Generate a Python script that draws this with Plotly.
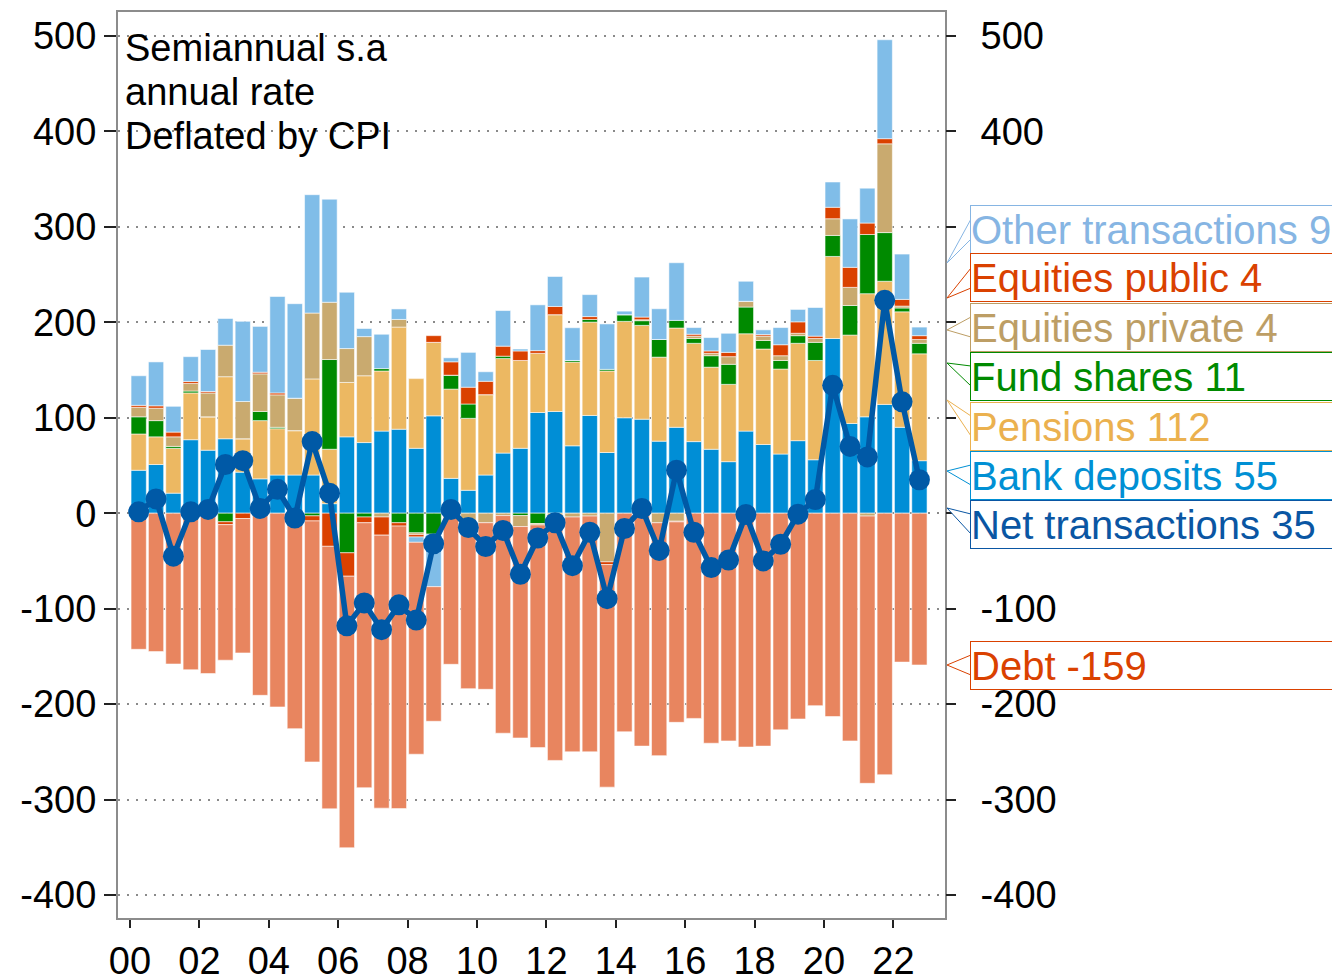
import plotly.graph_objects as go

# ---------------- data ----------------
periods = [f"{y}H{h}" for y in range(2000, 2023) for h in (1, 2)]

bank = [45, 51, 21, 77, 66, 78, 43, 36, 40, 40, 40, 10, 80, 74, 86, 88, 68, 102, 36.5, 24,
        40, 63, 68, 105.5, 106.6, 70.6, 102.4, 63.6, 100, 98.5, 75.5, 90, 75, 67, 54, 86, 72, 62,
        76, 56, 183, 94, 101, 114, 90, 55]
pensions = [38, 29, 47, 49, 35, 65, 35, 61, 48.5, 46.5, 100.7, 57, 57, 70, 63, 107, 73, 77, 93.5, 75.4,
            84.2, 99, 92, 62, 101.4, 87.7, 97.8, 85.4, 101, 98.3, 88, 104, 103, 86, 81, 102, 100, 89,
            102, 104, 86, 92.6, 129, 129, 121, 112]
fund = [18, 17, 2, 2, 0, -9, 0, 9.6, 1.5, 0, -2.8, 94, -41.5, -4, 2.5, -10, -20.6, -22, 14.6, 15,
        0, 2.5, -2.5, -10.8, 0, 1.7, 2.8, 1.7, 7, 4.9, 18.5, 8, 5, 12, 21, 28, 9, 9,
        8, 19, 22, 31, 62, 51, 4, 11]
eq_private = [10, 13, 10, 8, 25, 33, 39, 39.4, 34, 34, 69, 60, 35.5, 41, -4, 8, -1.8, 0, 0, -10,
              -10, -2.5, -11.5, -1.5, -5, -4, -3, -51, 0, 1, -10, -8.4, 2.5, 2.5, 8, 6, 4.5, 5,
              2.5, 4, 17.5, 19, -3, 93, 2, 4]
eq_public = [2, 2.5, 5, 2, 1.5, -3, -5.6, 1.7, 2, 0, -5.3, -34.7, -24.5, -6, -19, -3.5, -2.5, 7, 14, 17.6,
             14, 10.5, 10, 2.8, 8.6, 0, 3, -2.8, 0, 2.8, 0, -0.7, 2, 2.5, 4.5, 0, 1.6, 11.5,
             12, 2.5, 12, 21, 12, 5.4, 7, 4]
other = [31, 46, 27, 26, 44, 28, 84, 48, 101, 99, 124, 108, 59, 8.5, 36, 11, -5.6, -55, 4.2, 36.5,
         10, 37.3, 2, 48, 31.4, 34.3, 23, 47.6, 3.7, 41.9, 32.2, 60.4, 7, 14, 20, 21, 5, 18,
         13, 30, 26.5, 50.7, 36.5, 103.6, 47.5, 9]
debt = [-142.6, -145, -158, -164, -168, -142, -140.8, -190.8, -203, -225.7, -252.5, -275, -284.5, -277.6,
        -286, -296, -222, -141, -158.3, -173.8, -174.5, -228, -221.5, -233.3, -254, -246, -247, -233.2,
        -229, -244, -244, -210, -215, -241, -238.6, -245, -244, -227, -215.6, -201.6, -213, -238.6,
        -280, -274, -156, -159]
net = [1.4, 15, -45, 1.4, 4, 51, 55, 5, 25, -5, 75, 21, -118, -94, -122, -96, -112, -32, 4, -15,
       -35, -18, -64, -26, -10, -55, -20, -89.5, -16, 5, -39, 45, -20, -57, -49, -1.4, -50, -32.5,
       -1, 14.3, 134, 70, 59, 223, 116.7, 35]

x_tickvals = [2000, 2002, 2004, 2006, 2008, 2010, 2012, 2014, 2016, 2018, 2020, 2022]
x_ticktext = ["00", "02", "04", "06", "08", "10", "12", "14", "16", "18", "20", "22"]
y_tickvals = [-400, -300, -200, -100, 0, 100, 200, 300, 400, 500]
y_ticktext = ["-400", "-300", "-200", "-100", "0", "100", "200", "300", "400", "500"]
# right axis: labels hidden behind the callout boxes are left blank
y2_ticktext = ["-400", "-300", "-200", "-100", "", "", "", "", "400", "500"]

note_lines = ["Semiannual s.a", "annual rate", "Deflated by CPI"]

# ---------------- styling ----------------
FONT = "Liberation Sans, Arial, sans-serif"
C_BANK, C_PENS, C_FUND = "#008ed6", "#ecb862", "#008a00"
C_EQPRIV, C_EQPUB, C_OTHER = "#c9aa6f", "#da4100", "#80bde8"
C_DEBT, C_NET = "#e8855f", "#0059a6"

xpos = [int(p[:4]) + (0.25 if p.endswith("H1") else 0.75) for p in periods]

fig = go.Figure()
stack = [
    ("Bank deposits", bank, C_BANK),
    ("Pensions", pensions, C_PENS),
    ("Fund shares", fund, C_FUND),
    ("Equities private", eq_private, C_EQPRIV),
    ("Equities public", eq_public, C_EQPUB),
    ("Other transactions", other, C_OTHER),
    ("Debt", debt, C_DEBT),
]
for name, vals, col in stack:
    fig.add_trace(go.Bar(x=xpos, y=vals, name=name,
                         marker=dict(color=col, line=dict(color="rgba(255,255,255,0.55)", width=1))))
fig.add_trace(go.Scatter(x=xpos, y=net, name="Net transactions", mode="lines+markers",
                         line=dict(color=C_NET, width=5.5), marker=dict(size=21, color=C_NET)))
# invisible trace so the right-hand axis is drawn
fig.add_trace(go.Scatter(x=[xpos[0]], y=[0], yaxis="y2", mode="markers",
                         marker=dict(opacity=0), showlegend=False, hoverinfo="skip"))

YR = [-424.1, 525.1]
# plot-area edges in screenshot pixels (page body adds an 8px offset)
OFF = 8
L, R, T, B = 118, 945, 12, 918


def px2x(px):
    return (px - L) / (R - L)


def py2y(py):
    return (B - py) / (B - T)


fig.update_layout(
    width=1340, height=977,
    margin=dict(l=L - OFF, r=1340 - (R - OFF), t=T - OFF, b=977 - (B - OFF), autoexpand=False),
    barmode="relative", bargap=0.12,
    plot_bgcolor="white", paper_bgcolor="white",
    showlegend=False,
    font=dict(family=FONT, size=38, color="black"),
    xaxis=dict(range=[1999.654, 2023.487], tickmode="array", tickvals=x_tickvals, ticktext=x_ticktext,
               ticks="outside", ticklen=8, tickwidth=2, tickcolor="#222",
               showgrid=False, zeroline=False, showline=True, linecolor="#8c8c8c",
               linewidth=2, mirror=True, tickfont=dict(size=38)),
    yaxis=dict(range=YR, tickmode="array", tickvals=y_tickvals, ticktext=y_ticktext,
               ticks="outside", ticklen=12, tickwidth=2, tickcolor="#222",
               showgrid=True, gridcolor="#8a8a8a", gridwidth=2, griddash="2px,7px",
               zeroline=False, showline=True, linecolor="#8c8c8c", linewidth=2, mirror=True,
               tickfont=dict(size=38)),
    yaxis2=dict(range=YR, overlaying="y", side="right", tickmode="array",
                tickvals=y_tickvals, ticktext=y2_ticktext,
                ticks="outside", ticklen=10, tickwidth=2, tickcolor="#222",
                showgrid=False, zeroline=False, showline=False,
                ticklabelstandoff=17, tickfont=dict(size=38)),
)

# top-left note
for line, cy in zip(note_lines, [48, 92, 136]):
    fig.add_annotation(text=line, xref="paper", yref="paper", x=px2x(123), y=py2y(cy),
                       xanchor="left", yanchor="middle", showarrow=False,
                       font=dict(family=FONT, size=38, color="black"))

# right-hand labelled callouts
labels = [
    ("Other transactions", other[-1], "#86b5e3", 229, 263),
    ("Equities public", eq_public[-1], "#da4100", 278, 298),
    ("Equities private", eq_private[-1], "#bd9e65", 327, 330),
    ("Fund shares", fund[-1], "#008a00", 376, 363),
    ("Pensions", pensions[-1], "#ebb14f", 426, 400),
    ("Bank deposits", bank[-1], "#0090d4", 475, 471),
    ("Net transactions", net[-1], "#0a56a3", 524, 508),
    ("Debt", debt[-1], "#da4100", 665, 665),
]
BOX_L, TIP_X = 970, 947
for name, val, col, cy, tipy in labels:
    fig.add_shape(type="path", xref="paper", yref="paper",
                  path=(f"M {px2x(TIP_X)},{py2y(tipy)} L {px2x(BOX_L + 1)},{py2y(cy - 10)} "
                        f"L {px2x(BOX_L + 1)},{py2y(cy + 10)} Z"),
                  line=dict(color=col, width=1), fillcolor="white", layer="above")
    fig.add_annotation(text=f"{name} {round(val):d}", xref="paper", yref="paper",
                       x=px2x(BOX_L), y=py2y(cy), xanchor="left", yanchor="middle",
                       showarrow=False, align="left", valign="middle",
                       width=372, height=47, borderpad=0, borderwidth=1,
                       bordercolor=col, bgcolor="white",
                       font=dict(family=FONT, size=40, color=col))

fig.write_html("out.html")
